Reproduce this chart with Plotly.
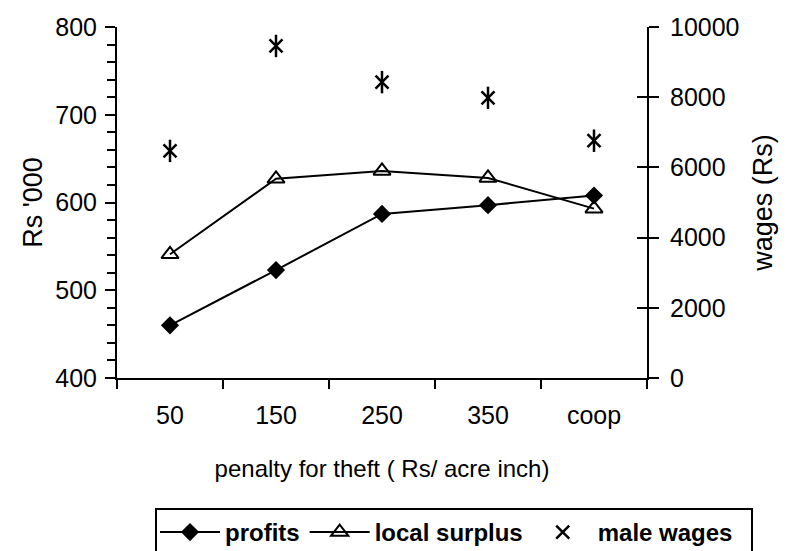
import plotly.graph_objects as go

categories = ["50", "150", "250", "350", "coop"]
profits = [460, 523, 587, 597, 608]
local_surplus = [541, 627, 636, 628, 593]
male_wages = [6470, 9460, 8430, 7980, 6760]

left_ticks = [400, 500, 600, 700, 800]
right_ticks = [0, 2000, 4000, 6000, 8000, 10000]
right_labels = ["0", "2000", "4000", "6000", "8000", "10000"]

FONT = "Liberation Sans, Arial, sans-serif"

fig = go.Figure()
fig.add_trace(go.Scatter(
    x=categories, y=profits, name="profits", mode="lines+markers",
    line=dict(color="black", width=2),
    marker=dict(symbol="diamond", size=14, color="black"),
))
fig.add_trace(go.Scatter(
    x=categories, y=local_surplus, name="local surplus", mode="lines+markers",
    line=dict(color="black", width=2),
    marker=dict(symbol="triangle-up-open", size=15, color="black",
                line=dict(width=2, color="black")),
))
fig.add_trace(go.Scatter(
    x=categories, y=male_wages, name="male wages\u00a0\u00a0", mode="markers",
    yaxis="y2", legendgroup="mw",
    marker=dict(symbol="x-thin-open", size=13, color="black",
                line=dict(width=2.5, color="black")),
))
fig.add_trace(go.Scatter(
    x=categories, y=male_wages, name="male wages", mode="markers",
    yaxis="y2", legendgroup="mw", showlegend=False,
    marker=dict(symbol="line-ns-open", size=16, color="black",
                line=dict(width=2.5, color="black")),
))
# dummy trace to activate the inside tick axis
fig.add_trace(go.Scatter(x=[categories[0]], y=[None], yaxis="y3",
                         showlegend=False, hoverinfo="skip"))

fig.update_layout(
    width=787, height=551,
    margin=dict(l=117, r=140, t=27, b=173, autoexpand=False),
    paper_bgcolor="white", plot_bgcolor="white",
    font=dict(family=FONT, color="black", size=25),
    showlegend=True,
    legend=dict(
        orientation="h", xref="paper", yref="paper",
        x=(753 - 117) / 530, xanchor="right",
        y=(378 - 508) / 351, yanchor="top",
        bordercolor="black", borderwidth=2,
        font=dict(family=FONT, size=24, color="black", weight="bold"),
        itemwidth=60, tracegroupgap=0,
    ),
    xaxis=dict(
        type="category", range=[-0.5, 4.5],
        tickson="boundaries", ticks="outside", ticklen=9, tickwidth=2,
        tickcolor="black", showline=True, linecolor="black", linewidth=2,
        showgrid=False, zeroline=False, ticklabelstandoff=14,
        tickfont=dict(size=25),
        title=dict(text="penalty for theft ( Rs/ acre inch)",
                   font=dict(size=24), standoff=32),
    ),
    yaxis=dict(
        range=[400, 800], tickvals=left_ticks, ticks="outside", ticklen=10,
        tickwidth=2, tickcolor="black", showline=True, linecolor="black",
        linewidth=2, showgrid=False, zeroline=False, ticklabelstandoff=3,
        minor=dict(dtick=20, ticks="outside", ticklen=8, tickwidth=2,
                   tickcolor="black", showgrid=False),
        tickfont=dict(size=25),
        title=dict(text="Rs '000", font=dict(size=27), standoff=5),
    ),
    yaxis2=dict(
        overlaying="y", side="right", range=[0, 10000], tickvals=right_ticks,
        ticktext=right_labels,
        ticks="outside", ticklen=10, tickwidth=2, tickcolor="black",
        showline=True, linecolor="black", linewidth=2, showgrid=False,
        zeroline=False, tickfont=dict(size=25), ticklabelstandoff=6,
        title=dict(text="wages (Rs)", font=dict(size=27), standoff=15),
    ),
    yaxis3=dict(
        overlaying="y", side="right", anchor="x", range=[0, 10000],
        tickvals=right_ticks, ticks="inside", ticklen=10, tickwidth=2,
        tickcolor="black", showticklabels=False, showgrid=False,
        zeroline=False, showline=False,
    ),
)

fig.write_html("out.html")
